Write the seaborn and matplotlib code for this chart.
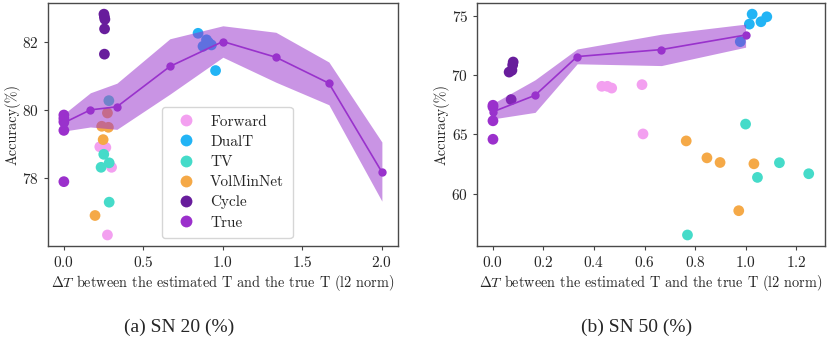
import seaborn as sns
import matplotlib.pyplot as plt
import pandas as pd

# ---- data: SN 20 ----
methods = ["Forward", "DualT", "TV", "VolMinNet", "Cycle", "True"]
colors = ["#f3a0f0", "#22b4f5", "#45dbc9", "#f5a947", "#681d9c", "#9b30cc"]

a_true_x = [0, 1/6, 1/3, 2/3, 1, 4/3, 5/3, 2]
a_true_mean = [79.62, 80.0, 80.09, 81.27, 82.0, 81.54, 80.78, 78.18]
a_true_lo = [79.38, 79.5, 79.43, 80.46, 81.54, 80.81, 80.15, 77.33]
a_true_hi = [79.88, 80.5, 80.78, 82.08, 82.46, 82.27, 81.4, 79.06]

a_forward_x = [0.226, 0.264, 0.300, 0.274]
a_forward_y = [78.92, 78.90, 78.32, 76.34]
a_dualt_x = [0.844, 0.897, 0.875, 0.928, 0.954, 0.91]
a_dualt_y = [82.24, 82.05, 81.86, 81.90, 81.15, 81.97]
a_tv_x = [0.283, 0.251, 0.285, 0.234, 0.285]
a_tv_y = [80.27, 78.70, 78.45, 78.32, 77.30]
a_volmin_x = [0.274, 0.238, 0.280, 0.247, 0.196]
a_volmin_y = [79.91, 79.52, 79.49, 79.13, 76.91]
a_cycle_x = [0.252, 0.255, 0.258, 0.256, 0.255]
a_cycle_y = [82.80, 82.72, 82.65, 82.37, 81.63]
a_truept_x = [0, 0, 0, 0, 0]
a_truept_y = [79.85, 79.75, 79.65, 79.40, 77.90]

# ---- data: SN 50 ----
b_true_x = [0, 1/6, 1/3, 2/3, 1]
b_true_mean = [66.9, 68.29, 71.56, 72.15, 73.38]
b_true_lo = [66.3, 66.85, 70.95, 70.8, 72.35]
b_true_hi = [67.6, 69.6, 72.2, 73.45, 74.3]

b_forward_x = [0.431, 0.453, 0.470, 0.590, 0.594]
b_forward_y = [69.05, 69.05, 68.90, 69.19, 65.03]
b_dualt_x = [1.026, 1.084, 1.061, 1.015, 0.979]
b_dualt_y = [75.14, 74.92, 74.50, 74.30, 72.82]
b_tv_x = [1.000, 1.134, 1.047, 1.250, 0.770]
b_tv_y = [65.86, 62.60, 61.36, 61.67, 56.50]
b_volmin_x = [0.765, 0.847, 0.899, 1.033, 0.973]
b_volmin_y = [64.44, 63.01, 62.62, 62.51, 58.55]
b_cycle_x = [0.080, 0.078, 0.075, 0.064, 0.072]
b_cycle_y = [71.10, 70.85, 70.40, 70.25, 67.93]
b_truept_x = [0, 0, 0, 0]
b_truept_y = [67.45, 67.30, 66.14, 64.58]

a_xticks = [0.0, 0.5, 1.0, 1.5, 2.0]
a_yticks = [78, 80, 82]
b_xticks = [0.0, 0.2, 0.4, 0.6, 0.8, 1.0, 1.2]
b_yticks = [60, 65, 70, 75]


def points_frame(xs, ys):
    rows = []
    for m, x, y in zip(methods, xs, ys):
        for xi, yi in zip(x, y):
            rows.append({"Method": m, "dT": xi, "Acc": yi})
    return pd.DataFrame(rows)


df_a = points_frame(
    [a_forward_x, a_dualt_x, a_tv_x, a_volmin_x, a_cycle_x, a_truept_x],
    [a_forward_y, a_dualt_y, a_tv_y, a_volmin_y, a_cycle_y, a_truept_y])
df_b = points_frame(
    [b_forward_x, b_dualt_x, b_tv_x, b_volmin_x, b_cycle_x, b_truept_x],
    [b_forward_y, b_dualt_y, b_tv_y, b_volmin_y, b_cycle_y, b_truept_y])

sns.set_style("ticks")
plt.rcParams["font.family"] = ["cmr10"]
plt.rcParams["mathtext.fontset"] = "cm"
plt.rcParams["axes.formatter.use_mathtext"] = True
plt.rcParams["axes.unicode_minus"] = False

fig = plt.figure(figsize=(8.27, 3.47), dpi=100)
ax1 = fig.add_axes([0.058, 0.291, 0.423, 0.700])
ax2 = fig.add_axes([0.577, 0.291, 0.420, 0.700])

palette = dict(zip(methods, colors))


def draw(ax, df, tx, tm, tlo, thi, xt, yt, legend):
    sns.scatterplot(data=df, x="dT", y="Acc", hue="Method", hue_order=methods,
                    palette=palette, s=60, linewidth=0, ax=ax, legend=legend,
                    zorder=2)
    ax.fill_between(tx, tlo, thi, color="#9932cc", alpha=0.52, linewidth=0,
                    zorder=3)
    sns.lineplot(x=tx, y=tm, color="#9932cc", marker="o", markersize=6,
                 markeredgewidth=0, linewidth=1.2, ax=ax, zorder=4)
    ax.set_xticks(xt)
    ax.set_yticks(yt)
    ax.set_xlabel(r"$\Delta T$ between the estimated T and the true T (l2 norm)",
                  fontsize=10.3, labelpad=2)
    ax.set_ylabel("Accuracy(%)", fontsize=10.3, labelpad=1)
    ax.tick_params(labelsize=11, length=3, color="#444444")
    for sp in ax.spines.values():
        sp.set_color("#4a4a4a")
        sp.set_linewidth(1.0)


draw(ax1, df_a, a_true_x, a_true_mean, a_true_lo, a_true_hi, a_xticks, a_yticks, True)
draw(ax2, df_b, b_true_x, b_true_mean, b_true_lo, b_true_hi, b_xticks, b_yticks, False)

ax1.legend(loc="lower left", bbox_to_anchor=(0.326, 0.033), borderaxespad=0,
           fontsize=11, labelspacing=0.42, handletextpad=0.6, borderpad=0.55,
           markerscale=1.1, frameon=True, title=None)

fig.text(0.217, 0.057, "(a) SN 20 (%)", ha="center", va="center",
         family="Liberation Serif", fontsize=14)
fig.text(0.770, 0.057, "(b) SN 50 (%)", ha="center", va="center",
         family="Liberation Serif", fontsize=14)

fig.savefig("out.png", dpi=100)
